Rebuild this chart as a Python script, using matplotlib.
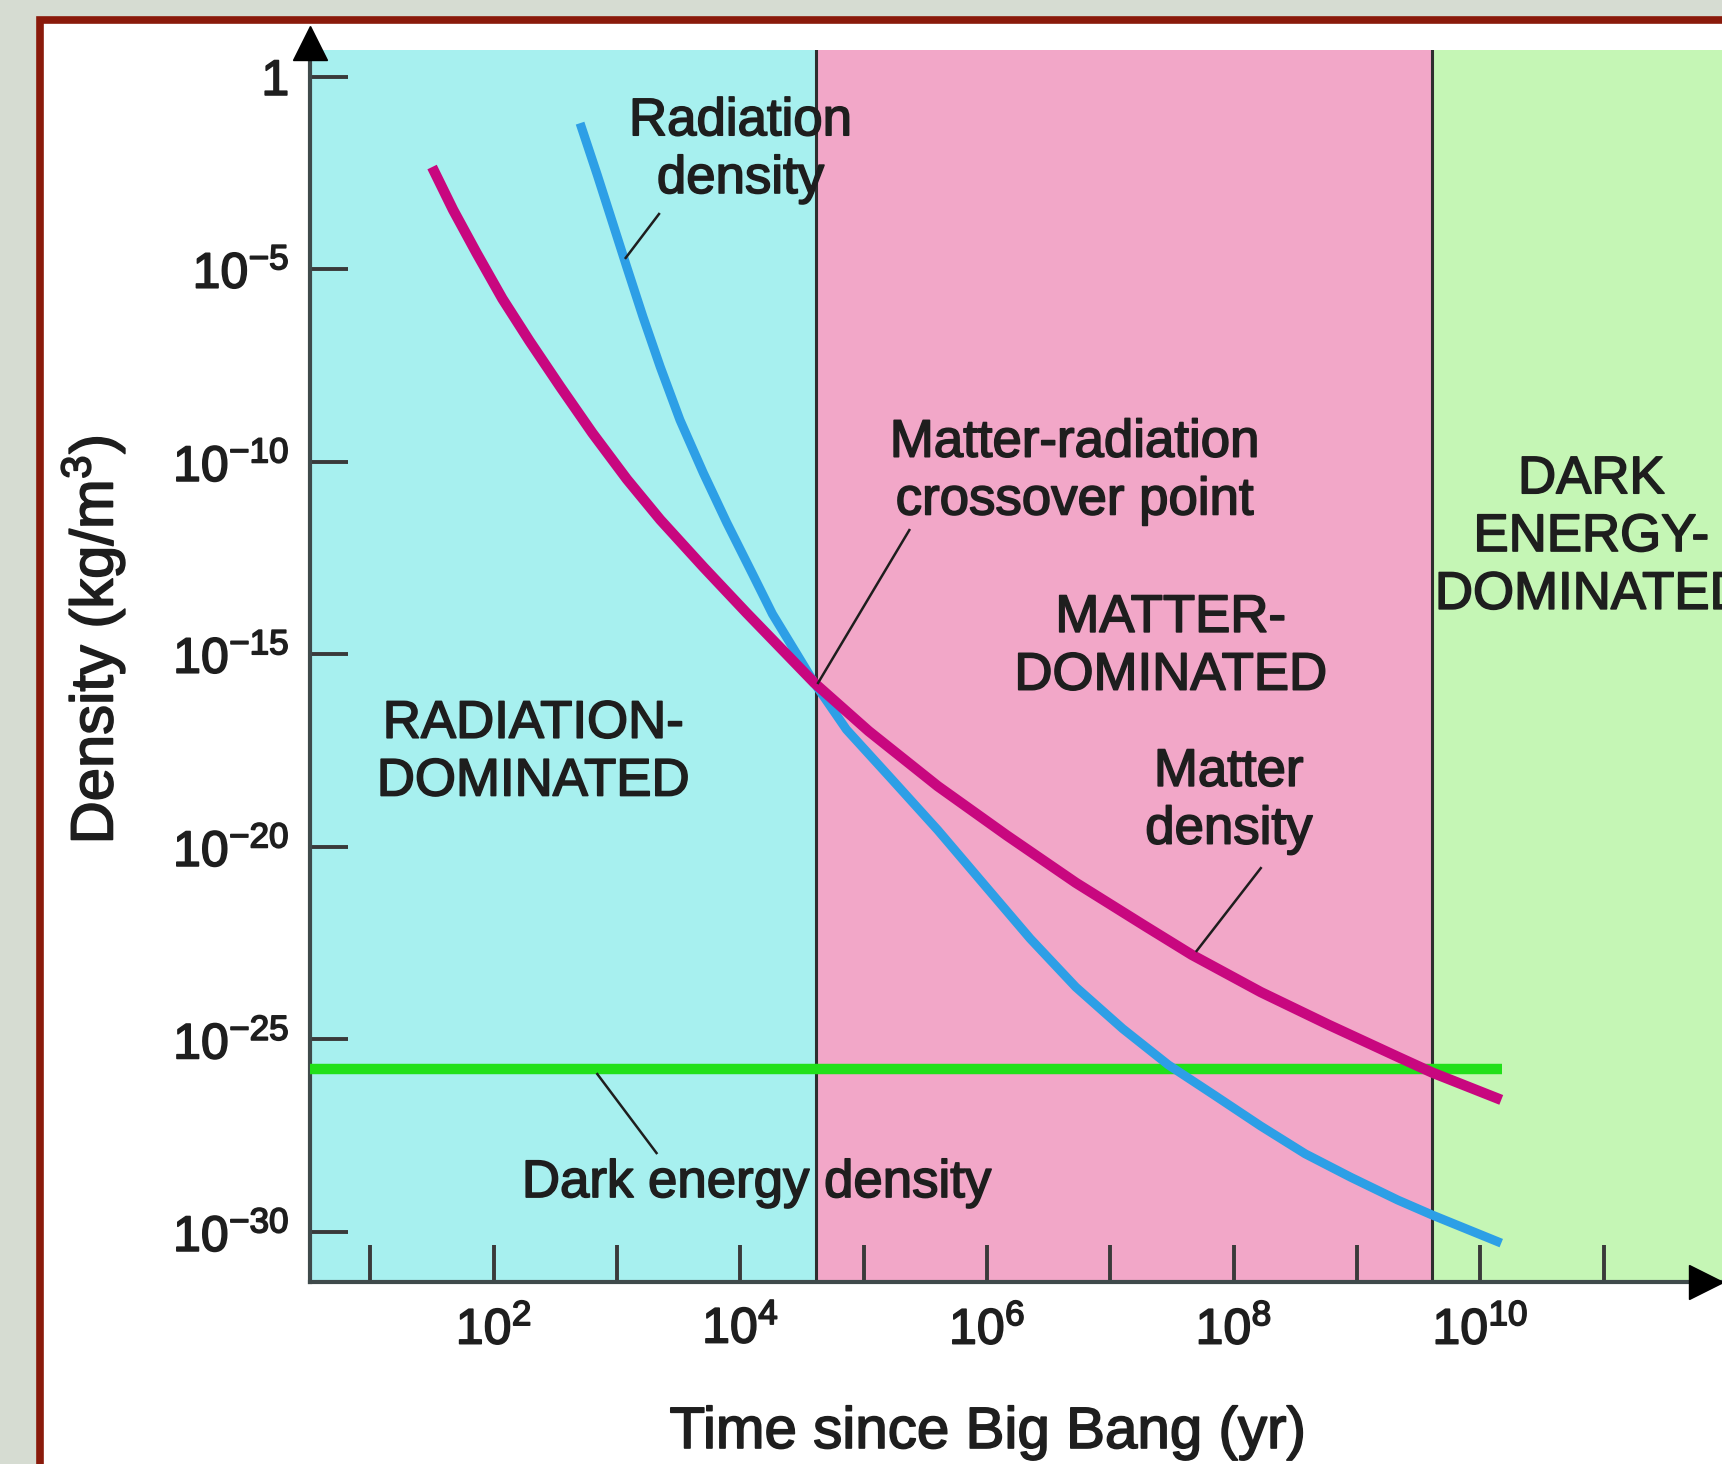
import numpy as np
import matplotlib
matplotlib.use('Agg')
import matplotlib.pyplot as plt
import matplotlib.patheffects as pe
from matplotlib.patches import Rectangle
from matplotlib.ticker import FixedLocator, NullLocator

plt.rcParams['font.family'] = ['Liberation Sans', 'DejaVu Sans']
plt.rcParams['mathtext.fontset'] = 'custom'
plt.rcParams['mathtext.rm'] = 'Liberation Sans'
plt.rcParams['mathtext.it'] = 'Liberation Sans:italic'
plt.rcParams['mathtext.bf'] = 'Liberation Sans:bold'

# log10(time / yr) and log10(density / kg m^-3)
matter_logt = [1.50, 1.67, 1.86, 2.07, 2.29, 2.54, 2.80, 3.08, 3.35, 3.70,
               4.05, 4.60, 5.04, 5.60, 6.16, 6.72, 7.28, 7.66, 8.22, 8.77,
               9.33, 9.61, 10.17]
matter_logrho = [-2.34, -3.45, -4.57, -5.76, -6.86, -8.05, -9.25, -10.45,
                 -11.50, -12.73, -13.92, -15.74, -16.99, -18.42, -19.70,
                 -20.93, -22.05, -22.80, -23.77, -24.62, -25.45, -25.86,
                 -26.57]

radiation_logt = [2.70, 2.84, 2.97, 3.08, 3.21, 3.35, 3.51, 3.70, 3.89, 4.10,
                  4.26, 4.60, 4.86, 5.23, 5.60, 5.98, 6.35, 6.72, 7.10, 7.47,
                  7.84, 8.22, 8.58, 8.95, 9.33, 9.61, 10.17]
radiation_logrho = [-1.20, -2.55, -3.85, -4.95, -6.23, -7.53, -8.91, -10.29,
                    -11.58, -12.92, -13.95, -15.74, -16.95, -18.25, -19.56,
                    -20.99, -22.38, -23.64, -24.72, -25.66, -26.44, -27.25,
                    -27.97, -28.58, -29.17, -29.56, -30.29]

dark_logt = [0.51, 10.18]
dark_logrho = [-25.77, -25.77]

# era boundaries (log10 yr)
era_edges = [0.51, 4.61, 9.61, 11.96]
era_colors = ['#a7f0ef', '#f2a7c8', '#c5f6b5']

y_ticks = [0, -5, -10, -15, -20, -25, -30]
y_labels = ['1'] + [r'$\mathregular{10^{%d}}$' % e for e in y_ticks[1:]]
x_ticks = list(range(1, 12))
x_labels = [r'$\mathregular{10^{%d}}$' % e if e % 2 == 0 else '' for e in x_ticks]

ink = '#1e1e1e'
bold = [pe.withStroke(linewidth=1.2, foreground=ink)]

fig = plt.figure(figsize=(17.22, 14.64), dpi=100)
fig.patch.set_facecolor('#d6dcd2')
fig.patches.append(Rectangle((40 / 1722, -0.05), 1.2, 1.05 - 20 / 1464,
                             transform=fig.transFigure, facecolor='white',
                             edgecolor='#8a1a0b', lw=5.5, zorder=-5))

ax = fig.add_axes([310 / 1722, 1 - 1282 / 1464, 1 - 310 / 1722, (1282 - 50) / 1464])
ax.set_facecolor('none')
ax.set_xscale('log')
ax.set_yscale('log')
ax.set_xlim(10 ** era_edges[0], 10 ** era_edges[-1])
ax.set_ylim(10 ** -31.30, 10 ** 0.70)

for a, b, c in zip(era_edges[:-1], era_edges[1:], era_colors):
    ax.axvspan(10 ** a, 10 ** b, color=c, lw=0, zorder=0)
for e in era_edges[1:-1]:
    ax.axvline(10 ** e, color='#2e2e2e', lw=2.2, zorder=2)

ax.plot(10 ** np.array(dark_logt), 10 ** np.array(dark_logrho), color='#22e01a',
        lw=7.5, solid_capstyle='butt', zorder=3)
ax.plot(10 ** np.array(radiation_logt), 10 ** np.array(radiation_logrho),
        color='#2d9fe6', lw=6.5, solid_capstyle='butt', solid_joinstyle='round', zorder=4)
ax.plot(10 ** np.array(matter_logt), 10 ** np.array(matter_logrho),
        color='#c8077f', lw=7.5, solid_capstyle='butt', solid_joinstyle='round', zorder=5)

# axes, ticks
for s in ['top', 'right']:
    ax.spines[s].set_visible(False)
for s in ['left', 'bottom']:
    ax.spines[s].set_color('#3f4a4b')
    ax.spines[s].set_linewidth(3)
ax.xaxis.set_major_locator(FixedLocator([10.0 ** e for e in x_ticks]))
ax.xaxis.set_minor_locator(NullLocator())
ax.set_xticklabels(x_labels)
ax.yaxis.set_major_locator(FixedLocator([10.0 ** e for e in y_ticks]))
ax.yaxis.set_minor_locator(NullLocator())
ax.set_yticklabels(y_labels)
ax.tick_params(axis='both', direction='in', length=27, width=2.8, color='#3a3a3a',
               labelsize=36, labelcolor=ink)
ax.tick_params(axis='x', pad=17)
ax.tick_params(axis='y', pad=15)
for t in ax.get_xticklabels() + ax.get_yticklabels():
    t.set_path_effects(bold)

ax.plot([0], [1.0053], marker='^', ms=24, color='black', transform=ax.transAxes,
        clip_on=False, zorder=6)
ax.plot([0.989], [0], marker='>', ms=24, color='black', transform=ax.transAxes,
        clip_on=False, zorder=6)

# labels and pointers
fs = 38
def label(lx, ly, s):
    ax.text(10 ** lx, 10 ** ly, s, ha='center', va='center', fontsize=fs,
            color=ink, linespacing=1.2, zorder=7, path_effects=bold)

def pointer(x0, y0, x1, y1):
    ax.plot([10 ** x0, 10 ** x1], [10 ** y0, 10 ** y1], color=ink, lw=1.8, zorder=7)

label(4.00, -1.90, 'Radiation\ndensity')
pointer(3.34, -3.56, 3.07, -4.70)
label(6.71, -10.25, 'Matter-radiation\ncrossover point')
pointer(5.37, -11.77, 4.63, -15.74)
label(7.49, -14.80, 'MATTER-\nDOMINATED')
label(7.96, -18.80, 'Matter\ndensity')
pointer(8.22, -20.55, 7.70, -22.70)
label(2.32, -17.55, 'RADIATION-\nDOMINATED')
label(10.90, -11.95, 'DARK\nENERGY-\nDOMINATED')
label(4.13, -28.73, 'Dark energy density')
pointer(2.84, -25.90, 3.32, -27.95)

fig.text(93 / 1722, 1 - 640 / 1464, r'Density (kg/m$^3$)', rotation=90,
         ha='center', va='center', fontsize=43, color=ink, path_effects=bold)
fig.text(988 / 1722, 1 - 1433 / 1464, 'Time since Big Bang (yr)',
         ha='center', va='center', fontsize=42, color=ink, path_effects=bold)

fig.savefig('out.png', dpi=100, facecolor=fig.get_facecolor())
